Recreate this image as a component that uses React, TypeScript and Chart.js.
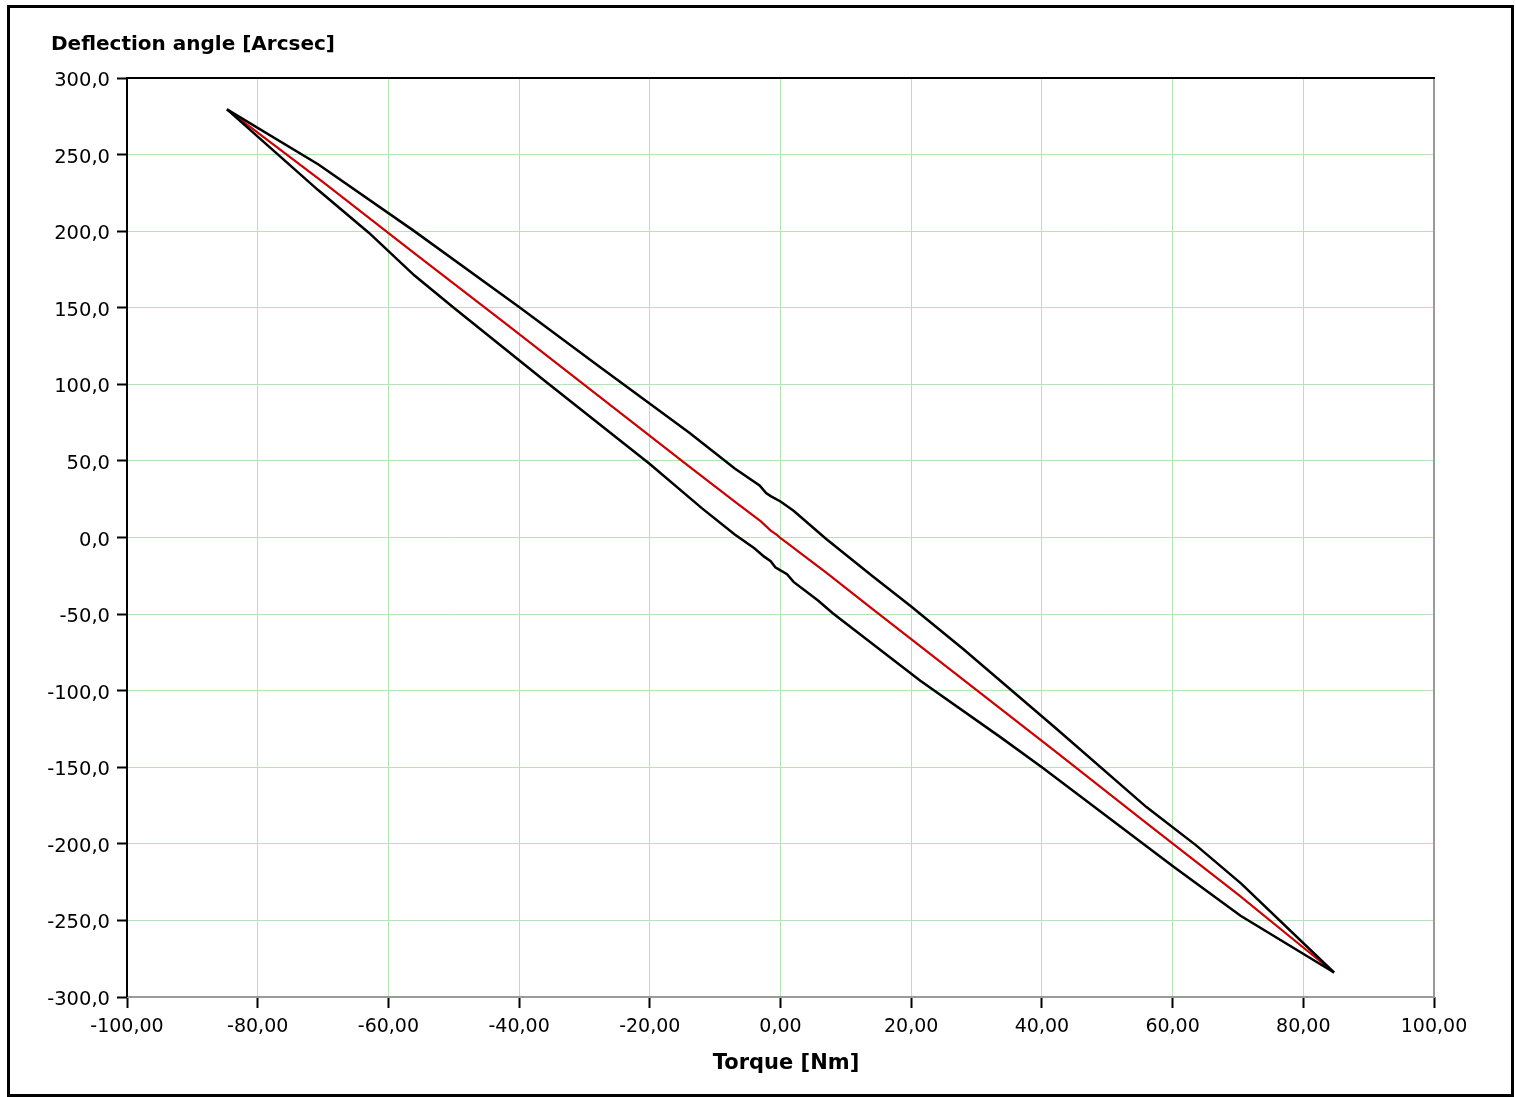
import { useEffect, useRef } from "react";
import { Chart, registerables } from "chart.js";

Chart.register(...registerables);

// Loading branch (upper black curve)
const upperTorque = [-84.7, -70.7, -56.2, -40, -28, -14, -7, -3.2, -2.2, -1.5, 0, 2, 7, 14, 20, 28, 42, 56, 63.6, 70.5, 84.7];
const upperAngle = [279.5, 243.5, 200.5, 150.5, 112.5, 68.5, 45, 34, 29, 27, 23.5, 17.5, -1, -25, -45, -73, -124, -176, -201, -226, -284];

// Unloading branch (lower black curve)
const lowerTorque = [-84.7, -70.8, -63, -56, -50, -36, -20, -12, -7, -4, -2.5, -1.5, -0.8, 0, 1, 2, 5.7, 8, 21.4, 33.7, 40, 60, 70.4, 84.7];
const lowerAngle = [279.5, 227, 199, 171, 150, 102, 48, 19, 2, -7, -12.5, -15.5, -19.5, -21.5, -24, -29, -41, -49.5, -93.5, -130.5, -150, -214.5, -247, -284];

// Mean curve (red)
const meanTorque = [-84.7, -70, -56, -42, -28, -14, -7, -3, -1.5, -0.5, 0, 1, 3, 7, 14, 28, 42, 56, 70, 84.7];
const meanAngle = [279.5, 232, 185.5, 139.5, 93, 46.5, 23.5, 10.5, 4.5, 1.5, -0.5, -3.5, -10, -23, -46.5, -93, -139.5, -186.5, -233, -284];

const xTickValues = [-100, -80, -60, -40, -20, 0, 20, 40, 60, 80, 100];
const xTickLabels = ["-100,00", "-80,00", "-60,00", "-40,00", "-20,00", "0,00", "20,00", "40,00", "60,00", "80,00", "100,00"];
const yTickValues = [-300, -250, -200, -150, -100, -50, 0, 50, 100, 150, 200, 250, 300];
const yTickLabels = ["-300,0", "-250,0", "-200,0", "-150,0", "-100,0", "-50,0", "0,0", "50,0", "100,0", "150,0", "200,0", "250,0", "300,0"];

const xTitle = "Torque [Nm]";
const yTitle = "Deflection angle [Arcsec]";

const FONT = '"DejaVu Sans", Verdana, sans-serif';
const GRID = "#b6e3b6";

export default function App() {
  const ref = useRef<HTMLCanvasElement>(null);

  useEffect(() => {
    if (!ref.current) return;
    const pts = (xs: number[], ys: number[]) => xs.map((x, i) => ({ x, y: ys[i] }));

    const framePlugin = {
      id: "frame",
      afterDraw(chart: any) {
        const { ctx, chartArea: a } = chart;
        ctx.save();
        ctx.lineWidth = 2;
        ctx.strokeStyle = "#9a9a9a";
        ctx.beginPath();
        ctx.moveTo(a.right, a.top);
        ctx.lineTo(a.right, a.bottom);
        ctx.lineTo(a.left, a.bottom);
        ctx.stroke();
        ctx.strokeStyle = "#000";
        ctx.beginPath();
        ctx.moveTo(a.left, a.bottom);
        ctx.lineTo(a.left, a.top);
        ctx.lineTo(a.right + 1, a.top);
        ctx.stroke();
        ctx.fillStyle = "#000";
        ctx.textBaseline = "alphabetic";
        ctx.font = `bold 20px ${FONT}`;
        ctx.textAlign = "left";
        ctx.fillText(yTitle, a.left - 76, a.top - 28);
        ctx.font = `bold 21px ${FONT}`;
        ctx.textAlign = "center";
        ctx.fillText(xTitle, (a.left + a.right) / 2 + 5.5, a.bottom + 72);
        ctx.restore();
      },
    };

    const chart = new Chart(ref.current, {
      type: "scatter",
      data: {
        datasets: [
          {
            label: "upper",
            data: pts(upperTorque, upperAngle),
            showLine: true,
            borderColor: "#000",
            borderWidth: 2.5,
            pointRadius: 0,
            tension: 0,
          },
          {
            label: "lower",
            data: pts(lowerTorque, lowerAngle),
            showLine: true,
            borderColor: "#000",
            borderWidth: 2.5,
            pointRadius: 0,
            tension: 0,
          },
          {
            label: "mean",
            data: pts(meanTorque, meanAngle),
            showLine: true,
            borderColor: "#cc0000",
            borderWidth: 2.2,
            pointRadius: 0,
            tension: 0,
          },
        ],
      },
      options: {
        animation: false,
        responsive: true,
        maintainAspectRatio: false,
        layout: { padding: { left: 0, top: 78, right: 82, bottom: 0 } },
        plugins: {
          legend: { display: false },
          tooltip: { enabled: false },
          title: { display: false },
        },
        scales: {
          x: {
            type: "linear",
            position: "bottom",
            min: -100,
            max: 100,
            afterBuildTicks: (s: any) => {
              s.ticks = xTickValues.map((v) => ({ value: v }));
            },
            afterFit: (s: any) => {
              s.height = 100;
            },
            ticks: {
              callback: (_v: any, i: number) => xTickLabels[i],
              color: "#000",
              font: { family: FONT, size: 19 },
              padding: 8,
              maxRotation: 0,
              autoSkip: false,
            },
            grid: {
              color: GRID,
              lineWidth: 1,
              tickColor: "#000",
              tickLength: 11,
              tickWidth: 2,
            },
            border: { display: false },
            title: { display: false },
          },
          y: {
            type: "linear",
            position: "left",
            min: -300,
            max: 300,
            afterBuildTicks: (s: any) => {
              s.ticks = yTickValues.map((v) => ({ value: v }));
            },
            afterFit: (s: any) => {
              s.width = 127;
            },
            ticks: {
              callback: (_v: any, i: number) => yTickLabels[i],
              color: "#000",
              font: { family: FONT, size: 19.5 },
              padding: 7,
              labelOffset: 3,
              autoSkip: false,
            },
            grid: {
              color: GRID,
              lineWidth: 1,
              tickColor: "#000",
              tickLength: 10,
              tickWidth: 2,
            },
            border: { display: false },
          },
        },
      },
      plugins: [framePlugin],
    });

    return () => chart.destroy();
  }, []);

  return (
    <div style={{ position: "absolute", left: 0, top: 0, width: 1516, height: 1097, background: "#fff" }}>
      <canvas ref={ref} />
      <div
        style={{
          position: "absolute",
          left: 7,
          top: 5,
          width: 1507,
          height: 1092,
          border: "3px solid #000",
          boxSizing: "border-box",
          pointerEvents: "none",
        }}
      />
    </div>
  );
}
